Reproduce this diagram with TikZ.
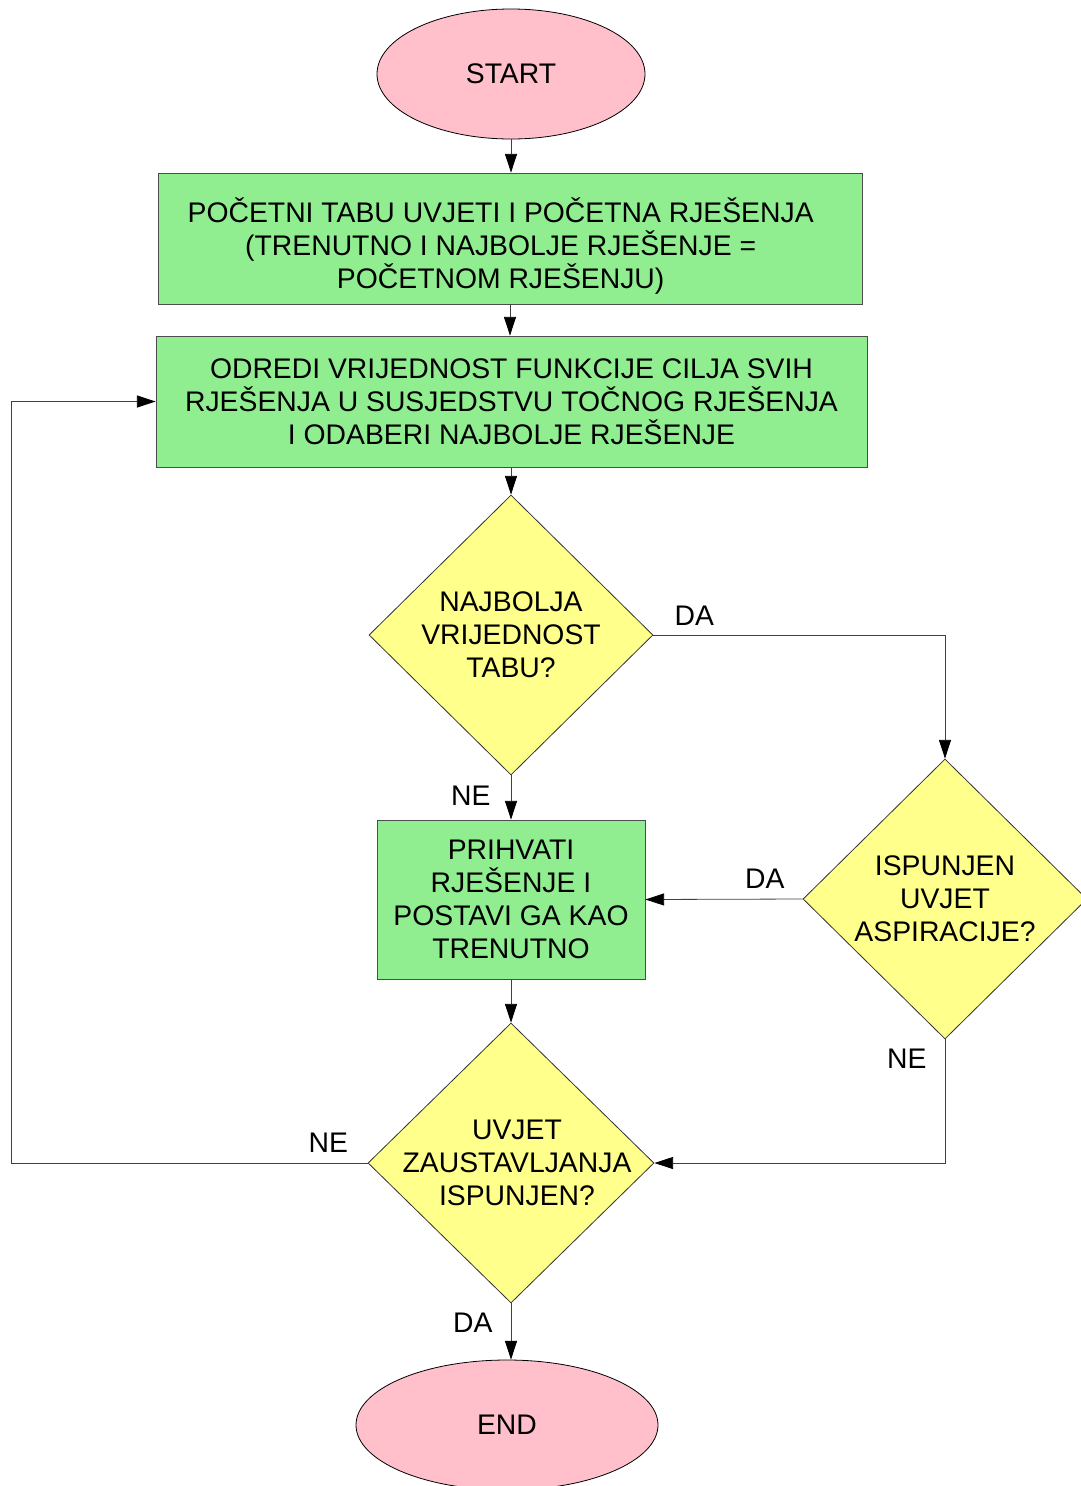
\documentclass[tikz,border=0pt]{standalone}
\usepackage{fontspec}
\setmainfont{Liberation Sans}
\usetikzlibrary{shapes.geometric,arrows.meta}
\definecolor{boxgreen}{HTML}{90EE90}
\definecolor{endpink}{HTML}{FFC0CB}
\definecolor{askyellow}{HTML}{FFFF8C}
\tikzset{
	terminal/.style={ellipse, draw=black, fill=endpink, line width=0.6pt, inner sep=0pt},
	process/.style={rectangle, draw=black!70, fill=boxgreen, line width=0.6pt, align=center, inner sep=0pt},
	decision/.style={diamond, draw=black!80, fill=askyellow, line width=0.6pt, inner sep=0pt, minimum width=213pt, minimum height=210pt},
	asktext/.style={align=center},
	arrowline/.style={draw=black!75, line width=0.6pt, -{Triangle[length=14pt, width=9pt, color=black]}},
	answer/.style={inner sep=0pt},
}

\begin{document}
\begin{tikzpicture}[x=0.75pt, y=-0.75pt, every node/.style={font=\fontsize{21.25}{24.75}\selectfont}]
			%%%%% START %%%%%
			
			\useasboundingbox (0,0) rectangle (1081,1486);
			
			\node[terminal, minimum width=201pt, minimum height=97.5pt] (start) at (511,74) {START};
			\node[process, minimum width=528pt, minimum height=98.25pt, label={[asktext, xshift=-7pt, yshift=-5.5pt]center:{POČETNI TABU UVJETI I POČETNA RJEŠENJA\\(TRENUTNO I NAJBOLJE RJEŠENJE =\\POČETNOM RJEŠENJU)}}] (init) at (510,238.5) {};
			\node[process, minimum width=533.25pt, minimum height=98.25pt] (neigh) at (511.5,401.5) {ODREDI VRIJEDNOST FUNKCIJE CILJA SVIH\\RJEŠENJA U SUSJEDSTVU TOČNOG RJEŠENJA\\I ODABERI NAJBOLJE RJEŠENJE};
			
			\node[decision, label={[asktext]center:{NAJBOLJA\\VRIJEDNOST\\TABU?}}] (istabu) at (511,635) {};
			\node[process, minimum width=201pt, minimum height=119.25pt] (accept) at (511,899.5) {PRIHVATI\\RJEŠENJE I\\POSTAVI GA KAO\\TRENUTNO};
			\node[decision, label={[asktext]center:{ISPUNJEN\\UVJET\\ASPIRACIJE?}}] (aspir) at (945,899) {};
			\node[decision, minimum width=214.5pt, label={[asktext, xshift=4.5pt]center:{UVJET\\ZAUSTAVLJANJA\\ISPUNJEN?}}] (stop) at (511,1163) {};
			
			\node[terminal, minimum width=226.5pt, minimum height=97.5pt] (end) at (507,1425) {END};
			
			\coordinate (back) at (11,1163);
			
			\draw[arrowline] (start.south) -- (start.south |- init.north);
			\draw[arrowline] (init.south) -- (init.south |- neigh.north);
			\draw[arrowline] (neigh.south -| istabu.north) -- (istabu.north);
			\draw[arrowline] (istabu.south) -- node[answer, pos=0.45, left=15pt] {NE} (accept.north);
			\draw[arrowline] (accept.south) -- (stop.north);
			\draw[arrowline] (stop.south) -- node[answer, pos=0.35, left=13.5pt] {DA} (stop.south |- end.north);
			
			\draw[arrowline] (istabu.east) -| node[answer, pos=0.07, above=6.75pt] {DA} (aspir.north);
			\draw[arrowline] (aspir.west) -- node[answer, pos=0.24, above=7.5pt] {DA} (accept.east);
			\draw[arrowline] (aspir.south) |- node[answer, pos=0.077, left=13.5pt] {NE} (stop.east);
			\draw[arrowline] (stop.west) -- node[answer, pos=0.11, above=7.5pt] {NE} (back) |- (neigh.west);
			
			%%%%% END %%%%%
\end{tikzpicture}
\end{document}
